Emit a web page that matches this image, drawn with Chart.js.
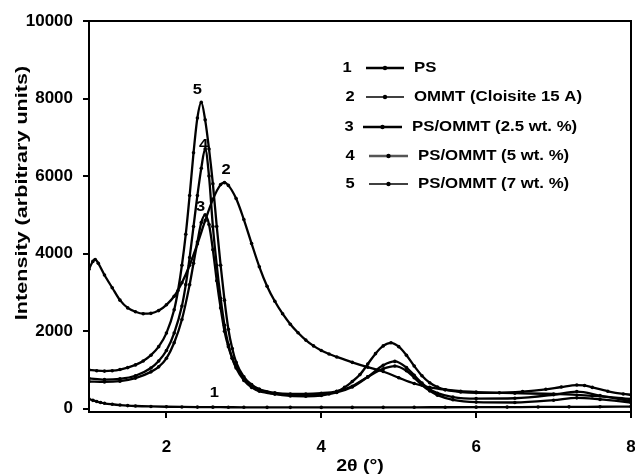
<!DOCTYPE html>
<html><head><meta charset="utf-8">
<script src="https://cdn.jsdelivr.net/npm/chart.js@4.4.1/dist/chart.umd.min.js"></script>
<style>html,body{margin:0;padding:0;background:#fff;}#wrap{width:635px;height:476px;}</style>
</head><body><div id="wrap"><canvas id="c" width="635" height="476"></canvas></div>
<script>
// ---------- data ----------
const seriesNumbers = ["1", "2", "3", "4", "5"];
const seriesNames = ["PS", "OMMT (Cloisite 15 A)", "PS/OMMT (2.5 wt. %)", "PS/OMMT (5 wt. %)", "PS/OMMT (7 wt. %)"];
const xTitle = "2\u03b8 (\u00b0)";
const yTitle = "Intensity (arbitrary units)";
const xTicks = [2, 4, 6, 8];
const yTicks = [0, 2000, 4000, 6000, 8000, 10000];

const psX = [1.0,1.05,1.1,1.15,1.2,1.3,1.4,1.5,1.6,1.8,2.0,2.2,2.4,2.6,2.8,3.0,3.3,3.6,4.0,4.4,4.8,5.2,5.6,6.0,6.4,6.8,7.2,7.6,8.0];
const psY = [250,215,185,160,140,115,95,80,70,58,50,45,42,40,38,36,35,35,34,34,35,36,38,40,42,45,48,50,55];

const ommtX = [1.0,1.05,1.08,1.12,1.2,1.3,1.4,1.5,1.6,1.7,1.8,1.9,2.0,2.1,2.2,2.3,2.4,2.5,2.6,2.7,2.75,2.8,2.9,3.0,3.1,3.2,3.3,3.4,3.5,3.6,3.7,3.8,3.9,4.0,4.1,4.2,4.4,4.6,4.8,5.0,5.2,5.4,5.6,5.8,6.0,6.5,7.0,7.5,8.0];
const ommtY = [3600,3800,3850,3750,3450,3120,2800,2600,2500,2450,2460,2530,2680,2900,3250,3700,4250,4850,5400,5780,5830,5760,5420,4880,4260,3660,3160,2770,2450,2180,1960,1770,1620,1500,1410,1335,1195,1070,960,800,650,550,490,450,430,400,380,330,250];

const c25X = [1.0,1.2,1.4,1.6,1.8,1.9,2.0,2.1,2.2,2.3,2.35,2.4,2.45,2.5,2.55,2.6,2.65,2.7,2.75,2.8,2.85,2.9,3.0,3.1,3.2,3.4,3.6,3.8,4.0,4.2,4.4,4.6,4.8,4.95,5.1,5.2,5.3,5.4,5.5,5.7,6.0,6.5,7.0,7.3,7.6,8.0];
const c25Y = [700,690,710,790,950,1080,1300,1700,2300,3200,3750,4300,4800,5000,4750,4100,3300,2600,2000,1600,1300,1080,780,600,500,410,380,380,400,450,580,820,1030,1100,980,800,610,460,350,230,170,160,220,280,240,160];

const c5X = [1.0,1.2,1.4,1.6,1.8,1.9,2.0,2.1,2.2,2.25,2.3,2.35,2.4,2.45,2.5,2.55,2.6,2.65,2.7,2.75,2.8,2.85,2.9,3.0,3.1,3.2,3.4,3.6,3.8,4.0,4.2,4.4,4.6,4.8,4.95,5.1,5.2,5.3,5.4,5.5,5.7,6.0,6.5,7.0,7.3,7.6,8.0];
const c5Y = [780,750,770,850,1050,1230,1500,1950,2650,3200,3900,4700,5500,6200,6700,6000,4700,3700,2850,2150,1650,1300,1050,730,550,450,380,350,345,360,420,560,820,1120,1220,1060,860,660,500,400,300,260,270,360,440,340,190];

const c7X = [1.0,1.1,1.2,1.3,1.4,1.5,1.6,1.7,1.8,1.9,2.0,2.1,2.15,2.2,2.25,2.3,2.35,2.4,2.45,2.5,2.55,2.6,2.65,2.7,2.75,2.8,2.85,2.9,3.0,3.1,3.2,3.3,3.4,3.6,3.8,4.0,4.1,4.2,4.3,4.4,4.5,4.6,4.7,4.8,4.9,5.0,5.1,5.2,5.3,5.4,5.5,5.6,5.8,6.0,6.3,6.6,6.9,7.1,7.3,7.4,7.5,7.7,7.9,8.0];
const c7Y = [1000,980,970,980,1010,1060,1130,1230,1380,1600,1950,2550,3050,3700,4500,5500,6600,7500,7900,7450,6700,5800,4700,3700,2800,2050,1550,1200,820,620,500,430,380,330,320,340,380,440,550,700,880,1150,1420,1620,1700,1600,1380,1100,850,670,560,490,430,410,410,440,500,560,610,600,550,450,380,360];

const seriesX = [psX, ommtX, c25X, c5X, c7X];
const seriesY = [psY, ommtY, c25Y, c5Y, c7Y];

// ---------- chart ----------
const FONT = "'Liberation Sans', Arial, Helvetica, sans-serif";

const datasets = seriesNames.map((name, i) => ({
  label: name,
  data: seriesX[i].map((xv, k) => ({x: xv, y: seriesY[i][k]})),
  borderColor: '#000',
  backgroundColor: '#000',
  borderWidth: 2.3,
  pointRadius: 1.8,
  pointBorderWidth: 0,
  pointBackgroundColor: '#000',
  cubicInterpolationMode: 'monotone',
  fill: false
}));

function stretchText(ctx, txt, x, y, sx, align) {
  ctx.save();
  ctx.translate(x, y);
  ctx.scale(sx, 1);
  ctx.textAlign = align;
  ctx.fillText(txt, 0, 0);
  ctx.restore();
}

const deco = {
  id: 'deco',
  afterDraw(chart) {
    const ctx = chart.ctx, a = chart.chartArea, xs = chart.scales.x, ys = chart.scales.y;
    ctx.save();
    // frame top + right
    ctx.strokeStyle = '#000'; ctx.lineWidth = 2;
    ctx.beginPath(); ctx.moveTo(a.left, a.top); ctx.lineTo(a.right, a.top); ctx.lineTo(a.right, a.bottom); ctx.stroke();
    ctx.fillStyle = '#000';
    ctx.textBaseline = 'middle';
    // axis titles
    ctx.font = 'bold 17px ' + FONT;
    stretchText(ctx, xTitle, (a.left + a.right) / 2, 466, 1.15, 'center');
    ctx.save(); ctx.translate(22, 193); ctx.rotate(-Math.PI / 2);
    stretchText(ctx, yTitle, 0, 0, 1.27, 'center');
    ctx.restore();
    // legend
    const rowY = [68, 97, 127, 156, 184];
    const numX = [347, 350, 349, 350, 350];
    const l0 = [366, 366, 363, 369, 369], l1 = [404, 404, 402, 408, 408];
    const tx = [414, 414, 412, 418, 418];
    const lw = [2.5, 1.5, 2.5, 2.5, 1.5];
    const lc = ['#000', '#000', '#000', '#555', '#000'];
    ctx.font = 'bold 15px ' + FONT;
    for (let i = 0; i < seriesNames.length; i++) {
      ctx.fillStyle = '#000';
      stretchText(ctx, seriesNumbers[i], numX[i], rowY[i], 1.1, 'center');
      ctx.strokeStyle = lc[i]; ctx.lineWidth = lw[i];
      ctx.beginPath(); ctx.moveTo(l0[i], rowY[i]); ctx.lineTo(l1[i], rowY[i]); ctx.stroke();
      ctx.beginPath(); ctx.arc((l0[i] + l1[i]) / 2, rowY[i], 2.2, 0, Math.PI * 2); ctx.fill();
      stretchText(ctx, seriesNames[i], tx[i], rowY[i], 1.12, 'left');
    }
    // curve number labels (anchored in data space)
    const lab = [[2.62, 410], [2.77, 6150], [2.44, 5200], [2.48, 6800], [2.40, 8230]];
    ctx.font = 'bold 15px ' + FONT;
    for (let i = 0; i < lab.length; i++) {
      stretchText(ctx, seriesNumbers[i], xs.getPixelForValue(lab[i][0]), ys.getPixelForValue(lab[i][1]), 1.1, 'center');
    }
    ctx.restore();
  }
};

const tickFont = {family: FONT, size: 17, weight: 'bold'};
new Chart(document.getElementById('c'), {
  type: 'line',
  data: {datasets},
  options: {
    responsive: false,
    animation: false,
    devicePixelRatio: 1,
    layout: {padding: {top: 21, right: 3, left: 0, bottom: 0}},
    plugins: {legend: {display: false}, tooltip: {enabled: false}},
    scales: {
      x: {
        type: 'linear', min: 1, max: 8,
        afterBuildTicks: s => { s.ticks = xTicks.map(v => ({value: v})); },
        ticks: {color: '#000', font: tickFont, padding: 19, maxRotation: 0, autoSkip: false, callback: v => String(v)},
        grid: {drawOnChartArea: false, drawTicks: true, tickLength: 6, color: '#000', lineWidth: 2},
        border: {display: true, color: '#000', width: 2},
        afterFit: s => { s.height = 64; s.paddingLeft = 0; s.paddingRight = 0; }
      },
      y: {
        type: 'linear', min: -85, max: 10000,
        afterBuildTicks: s => { s.ticks = yTicks.map(v => ({value: v})); },
        ticks: {color: '#000', font: tickFont, padding: 10, callback: v => String(v)},
        grid: {drawOnChartArea: false, drawTicks: true, tickLength: 6, color: '#000', lineWidth: 2},
        border: {display: true, color: '#000', width: 2},
        afterFit: s => { s.width = 89; s.paddingTop = 0; s.paddingBottom = 0; }
      }
    }
  },
  plugins: [deco]
});
</script></body></html>
